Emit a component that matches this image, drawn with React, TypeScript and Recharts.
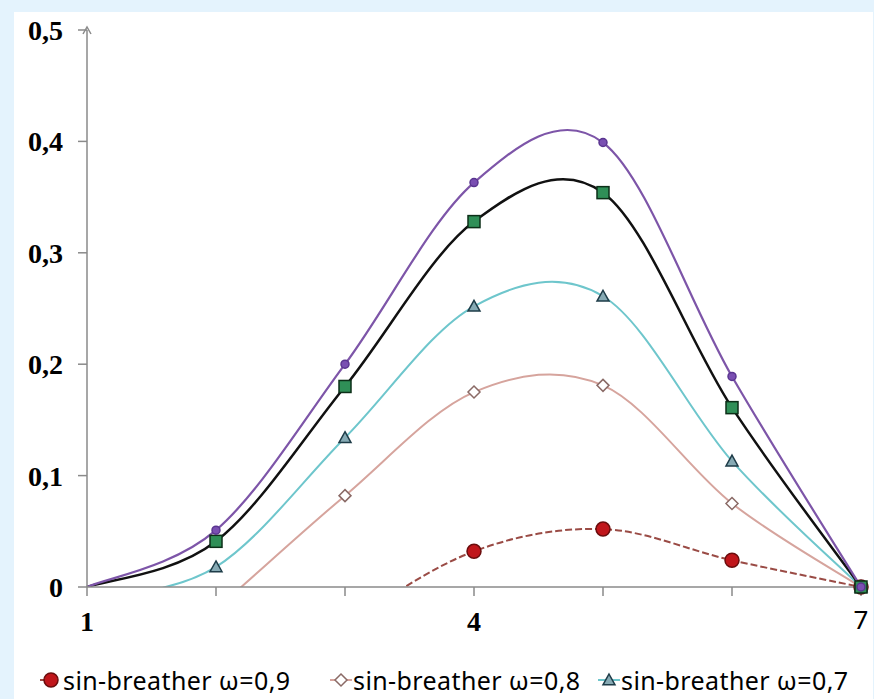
import React from 'react';
import { ComposedChart, Line, XAxis, YAxis } from 'recharts';

// x positions (1..7) and the five series.
// Values below zero are off the plot and only shape the clipped curve start.
const xs = [1, 2, 3, 4, 5, 6, 7];
const w09 = [-0.2, -0.12, -0.035, 0.032, 0.052, 0.024, 0];
const w08 = [-0.12, -0.02, 0.082, 0.175, 0.181, 0.075, 0];
const w07 = [-0.012, 0.018, 0.134, 0.252, 0.261, 0.113, 0];
const w06 = [0, 0.041, 0.18, 0.328, 0.354, 0.161, 0];
const w05 = [0, 0.051, 0.2, 0.363, 0.399, 0.189, 0];

const xTicks = [1, 2, 3, 4, 5, 6, 7];
const xLabels = [1, 4, 7];
const yTicks = [0, 0.1, 0.2, 0.3, 0.4, 0.5];
const legendNames = ['sin-breather ω=0,9', 'sin-breather ω=0,8', 'sin-breather ω=0,7'];

const seriesKeys = ['w09', 'w08', 'w07', 'w06', 'w05'];
const seriesVals = [w09, w08, w07, w06, w05];

// one row per x: "l*" feeds the clipped smooth line, "m*" the markers
const rows = xs.map((x, i) => {
  const r: Record<string, number | null> = { x };
  seriesKeys.forEach((k, s) => {
    const v = seriesVals[s][i];
    r['l' + k] = v;
    r['m' + k] = v >= 0 && x > 1 ? v : null;
  });
  return r;
});

const AXIS = '#8a8a8a';
const SERIF = '"Liberation Serif", "Times New Roman", serif';
const SANS = '"Noto Sans", "Open Sans", sans-serif';

// Excel-like smoothed line (Catmull-Rom as cubic bezier)
function excelSmooth(context: any) {
  let pts: number[][] = [];
  return {
    areaStart() {},
    areaEnd() {},
    lineStart() { pts = []; },
    point(x: number, y: number) { pts.push([+x, +y]); },
    lineEnd() {
      if (!pts.length) return;
      context.moveTo(pts[0][0], pts[0][1]);
      for (let i = 0; i < pts.length - 1; i++) {
        const p0 = pts[i - 1] || pts[i];
        const p1 = pts[i];
        const p2 = pts[i + 1];
        const p3 = pts[i + 2] || p2;
        context.bezierCurveTo(
          p1[0] + (p2[0] - p0[0]) / 6, p1[1] + (p2[1] - p0[1]) / 6,
          p2[0] - (p3[0] - p1[0]) / 6, p2[1] - (p3[1] - p1[1]) / 6,
          p2[0], p2[1],
        );
      }
    },
  };
}

const skip = (p: any) => p.value == null || p.cy == null || Number.isNaN(p.cy);

const circleDot = (r: number, fill: string, stroke: string) => (p: any) =>
  skip(p) ? <g key={`c${p.index}`} /> :
    <circle key={`c${p.index}`} cx={p.cx} cy={p.cy} r={r} fill={fill} stroke={stroke} strokeWidth={1.5} />;

const diamondDot = (h: number, fill: string, stroke: string) => (p: any) =>
  skip(p) ? <g key={`d${p.index}`} /> :
    <path key={`d${p.index}`} d={`M${p.cx},${p.cy - h}L${p.cx + h},${p.cy}L${p.cx},${p.cy + h}L${p.cx - h},${p.cy}Z`}
      fill={fill} stroke={stroke} strokeWidth={1.5} />;

const triDot = (h: number, fill: string, stroke: string) => (p: any) =>
  skip(p) ? <g key={`t${p.index}`} /> :
    <path key={`t${p.index}`} d={`M${p.cx},${p.cy - h}L${p.cx + h},${p.cy + h * 0.8}L${p.cx - h},${p.cy + h * 0.8}Z`}
      fill={fill} stroke={stroke} strokeWidth={1.5} />;

const squareDot = (h: number, fill: string, stroke: string) => (p: any) =>
  skip(p) ? <g key={`s${p.index}`} /> :
    <rect key={`s${p.index}`} x={p.cx - h} y={p.cy - h} width={h * 2} height={h * 2}
      fill={fill} stroke={stroke} strokeWidth={1.5} />;

const styles = [
  { key: 'w09', stroke: '#9a4b45', width: 2, dash: '7 3', dot: circleDot(7, '#c0161b', '#6b0d0d') },
  { key: 'w08', stroke: '#d6a49d', width: 2, dash: undefined, dot: diamondDot(6, '#ffffff', '#8a6a66') },
  { key: 'w07', stroke: '#6ec6cc', width: 2, dash: undefined, dot: triDot(6, '#86aab4', '#1e3c48') },
  { key: 'w06', stroke: '#111111', width: 2.5, dash: undefined, dot: squareDot(6, '#2f8f57', '#0c2f18') },
  { key: 'w05', stroke: '#7d55a8', width: 2.2, dash: undefined, dot: circleDot(4, '#7a4fb2', '#5a3590') },
];

const XTick = (p: any) => {
  const v = p.payload.value;
  if (!xLabels.includes(v)) return <g />;
  const last = v === 7;
  return (
    <text x={p.x} y={p.y} dy="0.71em" textAnchor="middle" fill="#000"
      fontFamily={last ? SANS : SERIF} fontWeight={last ? 400 : 700} fontSize={last ? 26 : 28}>
      {v}
    </text>
  );
};

const YTick = (p: any) => {
  const v = p.payload.value;
  return (
    <g>
      <text x={p.x} y={p.y} dy="0.36em" textAnchor="end" fill="#000"
        fontFamily={SERIF} fontWeight={700} fontSize={28}>
        {String(v).replace('.', ',')}
      </text>
      {v === 0.5 && (
        <path d={`M${p.x + 20},${p.y + 4}L${p.x + 24},${p.y - 3}L${p.x + 28},${p.y + 4}`} fill="none" stroke={AXIS} strokeWidth={1.5} />
      )}
    </g>
  );
};

const LegendIcon = ({ i }: { i: number }) => {
  const s = styles[i];
  return (
    <svg width={22} height={20} style={{ marginRight: 1 }}>
      <line x1={0} y1={10} x2={i === 0 ? 11 : 22} y2={10} stroke={s.stroke} strokeWidth={2} />
      {s.dot({ cx: 11, cy: 10, value: 1, index: 0 })}
    </svg>
  );
};

const legendLeft = [40, 330, 598];

export default function App() {
  return (
    <div style={{ position: 'fixed', left: 0, top: 0, width: 874, height: 699, background: '#e4f3fd', overflow: 'hidden' }}>
      <div style={{ position: 'absolute', left: 14, top: 12, right: 1, bottom: 0, background: '#ffffff' }} />
      <div style={{ position: 'absolute', left: 0, top: 0 }}>
        <ComposedChart width={874} height={699} data={rows} margin={{ top: 30, right: 13, bottom: 62, left: 0 }}>
          <XAxis dataKey="x" type="number" domain={[1, 7]} ticks={xTicks} interval={0}
            stroke={AXIS} strokeWidth={1.5} tickSize={9} tickMargin={15} height={50} tick={<XTick />} />
          <YAxis yAxisId="v" domain={[0, 0.5]} ticks={yTicks} width={87} stroke={AXIS} strokeWidth={1.5}
            tickSize={9} tickMargin={15} interval={0} tick={<YTick />} />
          <YAxis yAxisId="c" hide orientation="right" width={0} domain={[0, 0.5]} allowDataOverflow />
          {styles.map((s) => (
            <Line key={'l' + s.key} yAxisId="c" dataKey={'l' + s.key} type={excelSmooth as any}
              stroke={s.stroke} strokeWidth={s.width} strokeDasharray={s.dash}
              dot={false} activeDot={false} isAnimationActive={false} />
          ))}
          {styles.map((s) => (
            <Line key={'m' + s.key} yAxisId="v" dataKey={'m' + s.key} stroke="none"
              dot={s.dot} activeDot={false} isAnimationActive={false} />
          ))}
        </ComposedChart>
      </div>
      {legendNames.map((n, i) => (
        <div key={n} style={{ position: 'absolute', left: legendLeft[i], top: 664, height: 32, display: 'flex', alignItems: 'center',
          fontFamily: SANS, fontSize: 25, lineHeight: '32px', letterSpacing: 0.4, color: '#000', whiteSpace: 'nowrap' }}>
          <LegendIcon i={i} />
          <span>{n}</span>
        </div>
      ))}
    </div>
  );
}
